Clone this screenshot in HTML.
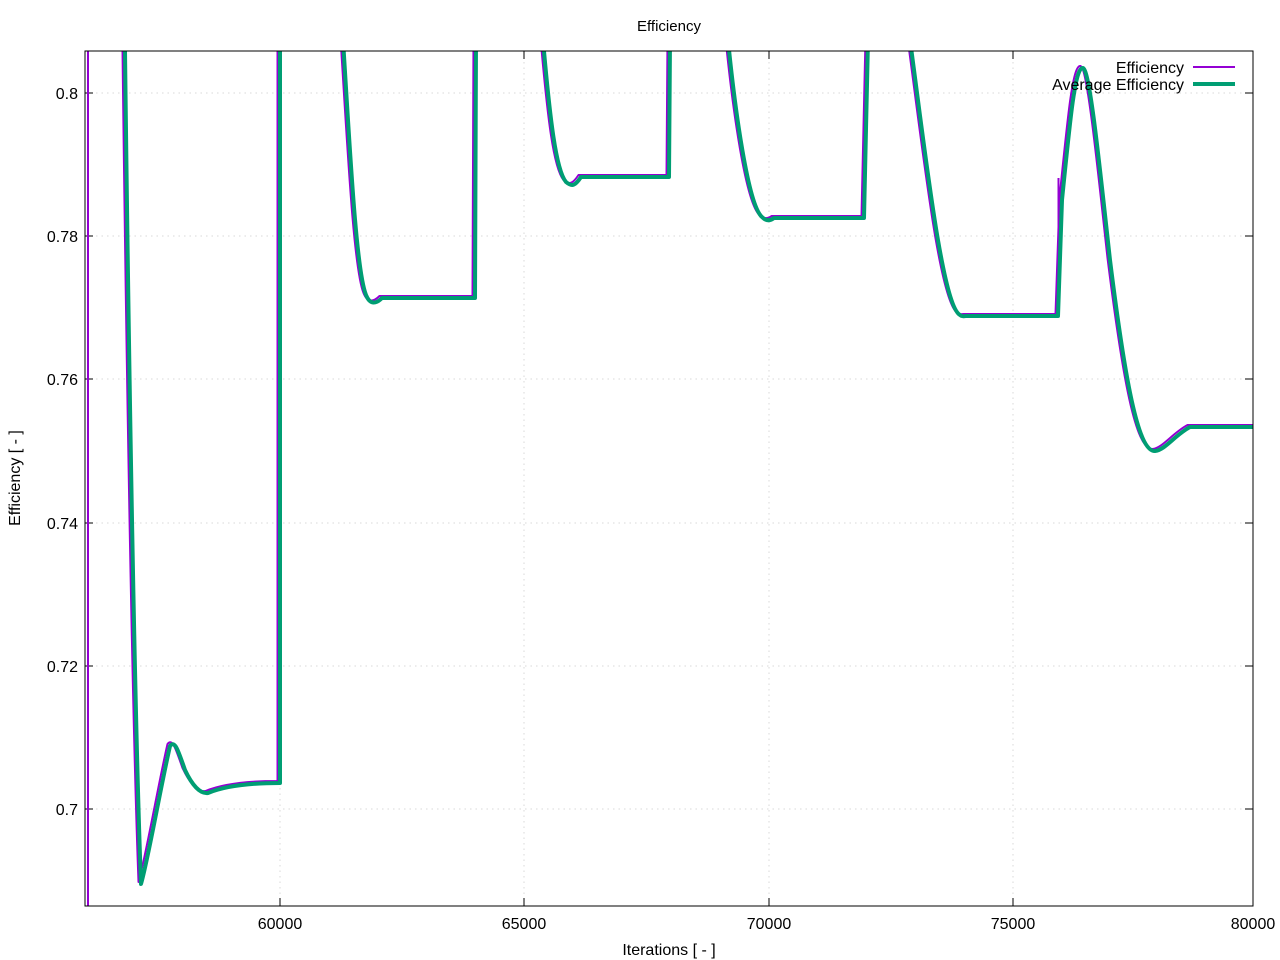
<!DOCTYPE html>
<html><head><meta charset="utf-8"><style>body{margin:0;background:#fff}svg{display:block;font-family:"Liberation Sans",sans-serif}</style></head><body>
<svg width="1280" height="960" viewBox="0 0 1280 960">
<defs><clipPath id="c"><rect x="85" y="51" width="1168" height="855"/></clipPath></defs>
<g stroke="#d8d8d8" stroke-dasharray="1.5,4" stroke-width="1">
<line x1="280" y1="51" x2="280" y2="906"/><line x1="524" y1="51" x2="524" y2="906"/><line x1="769" y1="51" x2="769" y2="906"/><line x1="1013" y1="51" x2="1013" y2="906"/>
<line x1="85" y1="93" x2="1253" y2="93"/><line x1="85" y1="236" x2="1253" y2="236"/><line x1="85" y1="379" x2="1253" y2="379"/><line x1="85" y1="523" x2="1253" y2="523"/><line x1="85" y1="666" x2="1253" y2="666"/><line x1="85" y1="809" x2="1253" y2="809"/>
</g>
<g stroke="#000" stroke-width="1">
<path d="M280,906v-8M524,906v-8M769,906v-8M1013,906v-8M280,51v8M524,51v8M769,51v8M1013,51v8"/>
<path d="M85,93h8M85,236h8M85,379h8M85,523h8M85,666h8M85,809h8M1253,93h-8M1253,236h-8M1253,379h-8M1253,523h-8M1253,666h-8M1253,809h-8"/>
</g>
<g clip-path="url(#c)" fill="none" stroke-linejoin="round">
<g stroke="#9400d3" stroke-width="2" transform="translate(-2.5,-2)">
<path d="M125,40 L125,51 C128,300 134,700 141,884 C148,860 160,790 170,746 C175,740 178,750 185,770 C192,785 200,794 208,793 C220,788 240,783 280,783 L280,40 M343,40 C350,150 356,270 366,295 C370,305 376,304 382,298 L475,298 L476,40 M543,40 C550,120 556,170 566,182 C572,187 575,186 581,177 L669,177 L670,40 M728,40 C735,110 748,205 762,217 C766,221 770,221 774,218 L864,218 L868,40 M910,40 C925,150 942,305 960,315 C962,317 964,316 966,316 L1058,316 L1062,200 C1066,160 1070,120 1073,100 C1076,80 1079,67 1083,68 C1090,70 1100,170 1110,260 C1125,380 1138,452 1155,451 C1165,450 1175,435 1190,427 L1260,427"/>
<path d="M1061,318 L1061,180"/>
</g>
<line x1="88" y1="51" x2="88" y2="906" stroke="#9400d3" stroke-width="2"/>
<path d="M125,40 L125,51 C128,300 134,700 141,884 C148,860 160,790 170,746 C175,740 178,750 185,770 C192,785 200,794 208,793 C220,788 240,783 280,783 L280,40 M343,40 C350,150 356,270 366,295 C370,305 376,304 382,298 L475,298 L476,40 M543,40 C550,120 556,170 566,182 C572,187 575,186 581,177 L669,177 L670,40 M728,40 C735,110 748,205 762,217 C766,221 770,221 774,218 L864,218 L868,40 M910,40 C925,150 942,305 960,315 C962,317 964,316 966,316 L1058,316 L1062,200 C1066,160 1070,120 1073,100 C1076,80 1079,67 1083,68 C1090,70 1100,170 1110,260 C1125,380 1138,452 1155,451 C1165,450 1175,435 1190,427 L1260,427" stroke="#009e73" stroke-width="4"/>
</g>
<rect x="85" y="51" width="1168" height="855" fill="none" stroke="#000" stroke-width="1"/>
<g font-size="16" fill="#000">
<text x="669" y="31" text-anchor="middle" font-size="15">Efficiency</text>
<text x="669" y="955" text-anchor="middle">Iterations [ - ]</text>
<text transform="translate(20,478) rotate(-90)" text-anchor="middle">Efficiency [ - ]</text>
<g text-anchor="middle"><text x="280" y="929">60000</text><text x="524" y="929">65000</text><text x="769" y="929">70000</text><text x="1013" y="929">75000</text><text x="1253" y="929">80000</text></g>
<g text-anchor="end"><text x="78" y="99">0.8</text><text x="78" y="242">0.78</text><text x="78" y="385">0.76</text><text x="78" y="529">0.74</text><text x="78" y="672">0.72</text><text x="78" y="815">0.7</text></g>
<g text-anchor="end"><text x="1184" y="73">Efficiency</text><text x="1184" y="90">Average Efficiency</text></g>
</g>
<line x1="1193" y1="67" x2="1235" y2="67" stroke="#9400d3" stroke-width="2"/>
<line x1="1193" y1="84" x2="1235" y2="84" stroke="#009e73" stroke-width="4"/>
</svg>
</body></html>
